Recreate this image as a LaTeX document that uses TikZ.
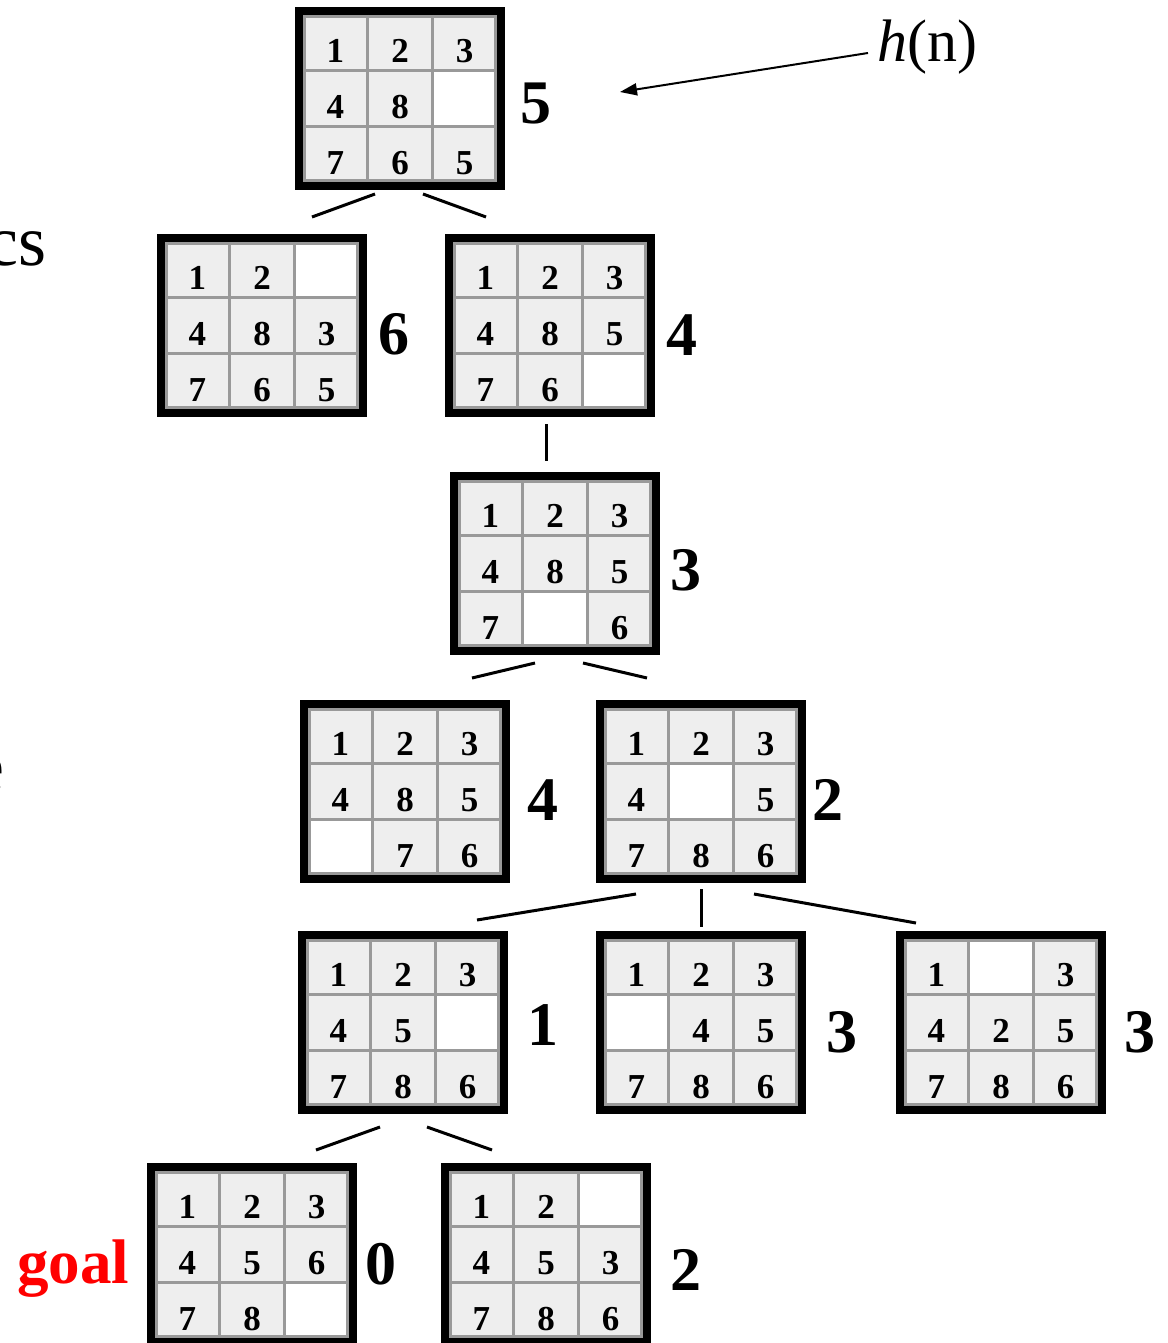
\documentclass[tikz,border=0pt]{standalone}
\usepackage{fontspec}
\setmainfont{Liberation Serif}
\usetikzlibrary{calc,arrows.meta}
\definecolor{cellgray}{HTML}{EEEEEE}
\definecolor{gridgray}{HTML}{999999}
\tikzset{
 boardframe/.style={draw=black, line width=8pt, minimum width=202pt, minimum height=175pt, inner sep=0pt},
 tiledigit/.style={font=\bfseries\fontsize{35}{35}\selectfont, inner sep=0pt},
 hval/.style={font=\bfseries\fontsize{62}{62}\selectfont, inner sep=0pt},
 treeline/.style={line width=3pt},
 gridline/.style={draw=gridgray, line width=3pt},
 sidetext/.style={font=\fontsize{72}{72}\selectfont, inner sep=0pt, anchor=base east},
}
% #1 name, #2 left x, #3 top y, #4 entries
\newcommand\drawboard[4]{%
  \node[boardframe] (#1) at (#2+105,#3+91.5) {};
  \foreach \v [count=\i from 0] in {#4} {
    \pgfmathtruncatemacro\cc{mod(\i,3)}
    \pgfmathtruncatemacro\rr{div(\i,3)}
    \ifx\v\empty\def\fc{white}\else\def\fc{cellgray}\fi
    \fill[\fc] (#2+8+\cc*64.667,#3+8+\rr*55.667) rectangle ++(64.667,55.667);
    \node[tiledigit, anchor=base] at (#2+8+\cc*64.667+32.33,#3+8+\rr*55.667+47.67) {\v};
  }
  \draw[gridline] (#2+9.5,#3+9.5) rectangle (#2+200.5,#3+173.5);
  \draw[gridline] (#2+72.667,#3+8) -- (#2+72.667,#3+175);
  \draw[gridline] (#2+137.333,#3+8) -- (#2+137.333,#3+175);
  \draw[gridline] (#2+8,#3+63.667) -- (#2+202,#3+63.667);
  \draw[gridline] (#2+8,#3+119.333) -- (#2+202,#3+119.333);
}
\begin{document}
\begin{tikzpicture}[x=1pt,y=-1pt]
\useasboundingbox (0,0) rectangle (1167,1343);
\clip (0,0) rectangle (1167,1343);

\drawboard{A}{295}{7}{1,2,3,4,8,,7,6,5}
\drawboard{B}{157}{234}{1,2,,4,8,3,7,6,5}
\drawboard{C}{445}{234}{1,2,3,4,8,5,7,6,}
\drawboard{D}{450}{472}{1,2,3,4,8,5,7,,6}
\drawboard{E}{300}{700}{1,2,3,4,8,5,,7,6}
\drawboard{F}{596}{700}{1,2,3,4,,5,7,8,6}
\drawboard{G}{298}{931}{1,2,3,4,5,,7,8,6}
\drawboard{H}{596}{931}{1,2,3,,4,5,7,8,6}
\drawboard{I}{896}{931}{1,,3,4,2,5,7,8,6}
\drawboard{J}{147}{1163}{1,2,3,4,5,6,7,8,}
\drawboard{K}{441}{1163}{1,2,,4,5,3,7,8,6}

\node[hval] (hA) at (536,104) {5};
\node[hval] (hB) at (394,334) {6};
\node[hval] (hC) at (682,335) {4};
\node[hval] (hD) at (686,570) {3};
\node[hval] (hE) at (543,800) {4};
\node[hval] (hF) at (828,800) {2};
\node[hval] (hG) at (543,1025) {1};
\node[hval] (hH) at (842,1032) {3};
\node[hval] (hI) at (1140,1032) {3};
\node[hval] (hJ) at (381,1264) {0};
\node[hval] (hK) at (686,1270) {2};

\draw[treeline] ($(A.south)+(-25,4)$) -- ($(B.north)+(50,-17)$);
\draw[treeline] ($(A.south)+(23,4)$) -- ($(C.north)+(-64,-17)$);
\draw[treeline] ($(C.south)+(-4,7)$) -- ($(D.north)+(-9,-11)$);
\draw[treeline] ($(D.south)+(-20,8)$) -- ($(E.north)+(67,-22)$);
\draw[treeline] ($(D.south)+(28,8)$) -- ($(F.north)+(-54,-22)$);
\draw[treeline] ($(F.south)+(-65,11)$) -- ($(G.north)+(74,-11)$);
\draw[treeline] ($(F.south)+(0,6)$) -- ($(H.north)+(0,-4)$);
\draw[treeline] ($(F.south)+(53,11)$) -- ($(I.north)+(-85,-8)$);
\draw[treeline] ($(G.south)+(-23,13)$) -- ($(J.north)+(64,-13)$);
\draw[treeline] ($(G.south)+(24,13)$) -- ($(K.north)+(-54,-13)$);

\node[font=\fontsize{60}{60}\selectfont, anchor=base west, inner sep=0pt] (hn) at (877,62) {\textit{h}(n)};
\coordinate (hnend) at (620,92);
\draw[line width=2pt, -{Triangle[length=17pt,width=12pt]}] ($(hn.base west)+(-9,-9)$) -- (hnend);

\node[font=\bfseries\fontsize{63}{63}\selectfont, text=red, anchor=base west, inner sep=0pt] (goal) at (17,1283) {goal};
\node[sidetext] (cs) at (47,265) {cs};
\node[sidetext] (efrag) at (5,790) {e};
\end{tikzpicture}
\end{document}
